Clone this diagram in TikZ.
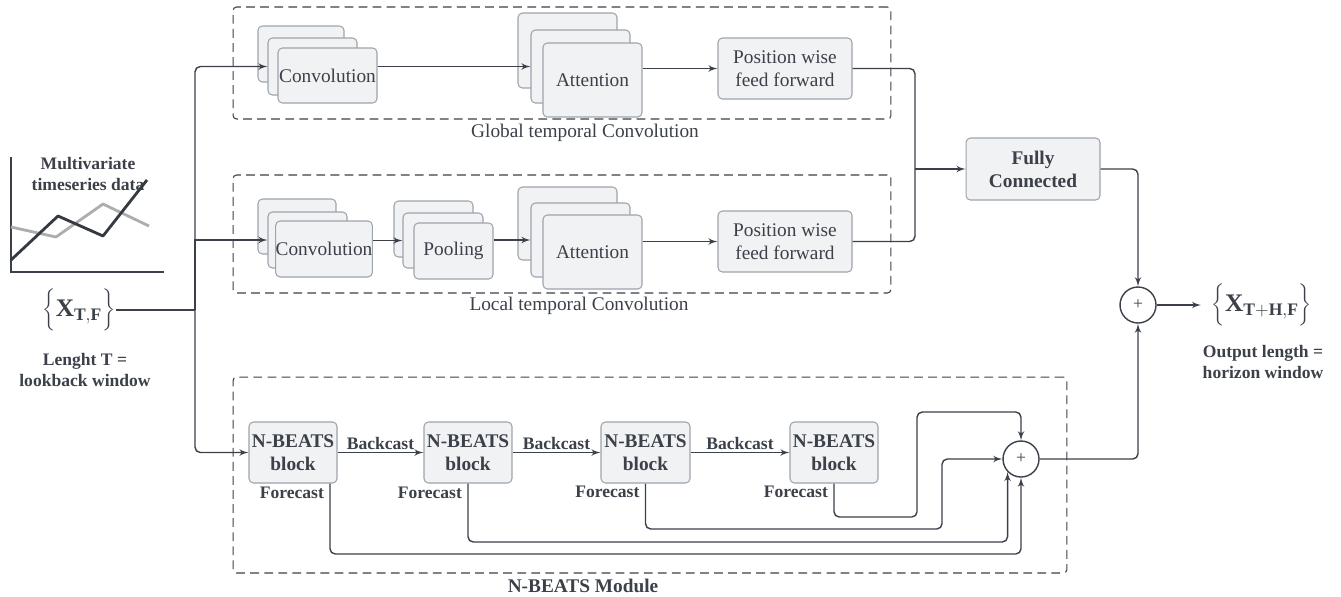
\documentclass[tikz,border=0pt]{standalone}
\usepackage{fontspec}
\setmainfont{Liberation Serif}
\usetikzlibrary{shapes,arrows,fit}
\definecolor{ink}{HTML}{3B4049}
\definecolor{boxfill}{HTML}{F1F2F4}
\definecolor{boxline}{HTML}{9EA4AC}
\tikzstyle{line} = [draw=ink, line width=0.8pt, -latex']
\tikzstyle{wire} = [draw=ink, line width=0.8pt, rounded corners=3pt]
\tikzstyle{block} = [rectangle, draw=boxline, line width=0.6pt, fill=boxfill, rounded corners=2.5pt, text=ink, text centered, align=center, inner sep=0pt, font=\fontsize{11}{13}\selectfont]
\tikzstyle{nbblock} = [block, minimum width=1.76cm, minimum height=1.22cm, font=\fontsize{11}{13}\selectfont\bfseries]
\tikzstyle{module} = [rectangle, draw=ink, line width=0.6pt, dash pattern=on 5pt off 3pt, rounded corners=2pt, inner sep=0pt]
\tikzstyle{sum} = [circle, draw=ink, line width=0.8pt, fill=white, minimum size=0.72cm, inner sep=0pt, text=ink, font=\fontsize{10}{12}\selectfont]

\begin{document}
\begin{tikzpicture}[x=0.02cm, y=-0.02cm]
	\tikzset{caption/.style={text=ink, align=center, inner sep=1pt, font=\fontsize{11}{13}\selectfont}, bold caption/.style={caption, font=\fontsize{10}{12}\selectfont\bfseries}, series/.style={line width=1.6pt, line join=round}, setlabel/.style={text=ink, inner sep=0pt, font=\Large}};
	\useasboundingbox (0,0) rectangle (1341,596);
	\node [module, minimum width=13.16cm, minimum height=2.24cm] (global) at (562,63) {};
	\node [module, minimum width=13.16cm, minimum height=2.36cm] (local) at (562,234) {};
	\node [module, minimum width=16.68cm, minimum height=3.92cm] (nbeats) at (650,475) {};
	\node [caption] (globaltxt) at (585,133) {Global temporal Convolution};
	\node [caption] (localtxt) at (579,306) {Local temporal Convolution};
	\node [bold caption, font=\fontsize{11}{13}\selectfont\bfseries] (nbeatstxt) at (583,586) {N-BEATS Module};
	\draw [ink, line width=1.6pt] (11,157) -- (11,272) -- (164,272);
	\node [bold caption] (charttxt) at (88,174) {Multivariate\\timeseries data};
	\draw [series, draw=black!32] (11,227) -- (56,237) -- (103,204) -- (149,226);
	\draw [series, draw=ink!90!black] (11,260) -- (58,216) -- (103,236) -- (147,180);
	\node [setlabel] (xin) at (79,310) {$\bigg\{\mathbf{X}_{\mathbf{T,F}}\bigg\}$};
	\node [bold caption] (intxt) at (85,370) {Lenght T =\\lookback window};
	\node [setlabel, inner xsep=6pt] (xout) at (1262,305) {$\bigg\{\mathbf{X}_{\mathbf{T+H,F}}\bigg\}$};
	\node [bold caption] (outtxt) at (1263,362) {Output length =\\horizon window};
	\node [block, minimum width=1.72cm, minimum height=1.12cm] (gconvA) at (301,54) {};
	\node [block, minimum width=1.78cm, minimum height=1.14cm] (gconvB) at (312.5,66.5) {};
	\node [block, minimum width=1.98cm, minimum height=1.10cm] (gconv) at (327.5,75.5) {Convolution};
	\node [block, minimum width=1.98cm, minimum height=1.50cm] (gattA) at (567.5,50.5) {};
	\node [block, minimum width=1.98cm, minimum height=1.46cm] (gattB) at (580.5,66.5) {};
	\node [block, minimum width=1.98cm, minimum height=1.48cm] (gatt) at (592.5,80) {Attention};
	\node [block, minimum width=2.68cm, minimum height=1.22cm] (gpff) at (785,68.5) {Position wise\\feed forward};
	\node [block, minimum width=1.56cm, minimum height=1.10cm] (lconvA) at (297,226.5) {};
	\node [block, minimum width=1.58cm, minimum height=1.12cm] (lconvB) at (307.5,240) {};
	\node [block, minimum width=1.84cm, minimum height=1.12cm] (lconv) at (324,249) {Convolution};
	\node [block, minimum width=1.58cm, minimum height=1.12cm] (lpoolA) at (433.5,229) {};
	\node [block, minimum width=1.60cm, minimum height=1.10cm] (lpoolB) at (443,240.5) {};
	\node [block, minimum width=1.58cm, minimum height=1.12cm] (lpool) at (453.5,251) {Pooling};
	\node [block, minimum width=1.98cm, minimum height=1.46cm] (lattA) at (567.5,223.5) {};
	\node [block, minimum width=1.98cm, minimum height=1.48cm] (lattB) at (580.5,240) {};
	\node [block, minimum width=1.98cm, minimum height=1.48cm] (latt) at (592.5,252) {Attention};
	\node [block, minimum width=2.68cm, minimum height=1.22cm] (lpff) at (785,241.5) {Position wise\\feed forward};
	\node [block, minimum width=2.68cm, minimum height=1.24cm, font=\fontsize{11}{13}\selectfont\bfseries] (fc) at (1033,169) {Fully\\Connected};
	\node [nbblock] (nb1) at (293,452.5) {N-BEATS\\block};
	\node [nbblock] (nb2) at (468,452.5) {N-BEATS\\block};
	\node [nbblock, minimum width=1.78cm] (nb3) at (645.5,452.5) {N-BEATS\\block};
	\node [nbblock] (nb4) at (834,452.5) {N-BEATS\\block};
	\node [sum] (sumA) at (1021,459) {+};
	\node [sum] (sumB) at (1138,305) {+};
	\coordinate (split) at (195,310);
	\coordinate (join) at (915,169);
	\coordinate (nb1f) at ([xshift=0.74cm]nb1.south);
	\node [bold caption, anchor=north east] (fcast1) at ([xshift=-0.08cm, yshift=-0.03cm]nb1f) {Forecast};
	\node [bold caption, anchor=north east] (fcast2) at ([xshift=-0.08cm, yshift=-0.03cm]nb2.south) {Forecast};
	\node [bold caption, anchor=north east] (fcast3) at ([xshift=-0.08cm, yshift=0cm]nb3.south) {Forecast};
	\node [bold caption, anchor=north east] (fcast4) at ([xshift=-0.08cm, yshift=0cm]nb4.south) {Forecast};
	\path [wire] (xin.east) -- (split);
	\path [line, rounded corners=3pt] (split) |- (gconvB.west);
	\path [line] (split) |- (lconvB.west);
	\path [line, rounded corners=3pt] (split) |- (nb1.west);
	\path [line] (gconv.east |- gattB.west) -- (gattB.west);
	\path [line] (gatt.east |- gpff.west) -- (gpff.west);
	\path [line] (lconv.east |- lpoolB.west) -- (lpoolB.west);
	\path [line] (lpool.east |- lattB.west) -- (lattB.west);
	\path [line] (latt.east |- lpff.west) -- (lpff.west);
	\path [wire] (gpff.east) -| (join);
	\path [wire] (lpff.east) -| (join);
	\path [line] (join) -- (fc.west);
	\path [line, rounded corners=3pt] (fc.east) -| (sumB.north);
	\path [line] (sumB.east) -- (xout.west);
	\path [line] (nb1.east) -- node [bold caption, above] {Backcast} (nb2.west);
	\path [line] (nb2.east) -- node [bold caption, above] {Backcast} (nb3.west);
	\path [line] (nb3.east) -- node [bold caption, above] {Backcast} (nb4.west);
	\path [line, rounded corners=3pt] (nb1f) |- (sumA.south |- 0,554) -- (sumA.south);
	\path [line, rounded corners=3pt] (nb2.south) |- (sumA.224 |- 0,542) -- (sumA.224);
	\path [line, rounded corners=3pt] (nb3.south) |- (942,529) |- (sumA.west);
	\path [line, rounded corners=3pt] (nb4.south) |- (917,517) |- (sumA.north |- 0,412) -- (sumA.north);
	\path [line, rounded corners=3pt] (sumA.east) -| (sumB.south);
\end{tikzpicture}
\end{document}
